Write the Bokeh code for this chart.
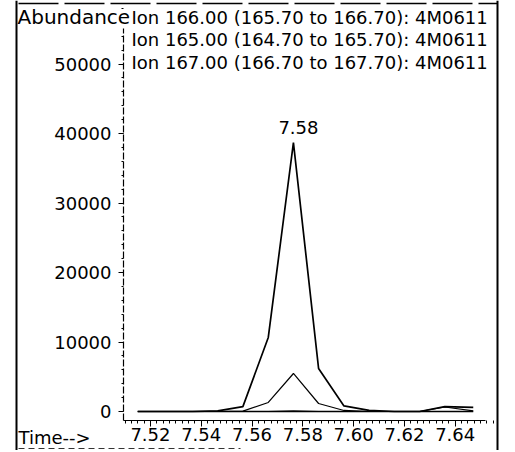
from bokeh.plotting import figure
from bokeh.models import Range1d, FixedTicker, Label, NumeralTickFormatter, Span
from bokeh.embed import file_html
from bokeh.resources import INLINE

# ---- data ----
times = [7.5150, 7.5267, 7.5366, 7.5465, 7.5564, 7.5664, 7.5763,
         7.5862, 7.5962, 7.6061, 7.6160, 7.6260, 7.6359, 7.6471]
ion166 = [0, 0, 0, 100, 700, 10650, 38700, 6200, 800, 150, 0, 0, 700, 600]
ion165 = [0, 0, 0, 0, 50, 1300, 5470, 1150, 150, 0, 0, 0, 650, 100]
ion167 = [0, 0, 0, 0, 0, 0, 60, 0, 0, 0, 0, 0, 0, 0]
ion_titles = ["Ion 166.00 (165.70 to 166.70): 4M0611",
              "Ion 165.00 (164.70 to 165.70): 4M0611",
              "Ion 167.00 (166.70 to 167.70): 4M0611"]
y_title = "Abundance"
x_title = "Time-->"
x_ticks = [7.52, 7.54, 7.56, 7.58, 7.60, 7.62, 7.64]
y_ticks = [0, 10000, 20000, 30000, 40000, 50000]

# ---- layout (pixel geometry of the reference picture) ----
W, H = 499, 450
OFFX, OFFY = 0, 0            # canvas origin in the picture
KX = 50.8 / 0.02             # px per minute
KY = 69.5 / 10000            # px per abundance unit
AXIS_PX, AXIS_T = 123, 7.5094  # x of the y axis and its time
ZERO_PY = 411                # y of abundance 0
FONT = "DejaVu Sans"
FS = "18px"

def t(px):   # picture x -> time
    return AXIS_T + (px - AXIS_PX) / KX

def v(py):   # picture y -> abundance
    return (ZERO_PY - py) / KY

X0, X1 = t(OFFX), t(OFFX + W)
Y0, Y1 = v(OFFY + H), v(OFFY)

p = figure(width=W, height=H, output_backend="svg", toolbar_location=None,
           x_range=Range1d(X0, X1), y_range=Range1d(Y0, Y1),
           min_border=0)
p.outline_line_color = None
p.grid.visible = False
p.background_fill_color = "white"
p.border_fill_color = "white"

# axes placed inside the full-canvas frame
xstep = (x_ticks[1] - x_ticks[0]) / 8
x_minor = [round(x_ticks[0] + k * xstep, 5) for k in range(-4, 8 * len(x_ticks) - 1)]
ystep = (y_ticks[1] - y_ticks[0]) / 5
y_minor = [y_ticks[0] + k * ystep for k in range(0, 5 * len(y_ticks) + 2)]

xa, ya = p.xaxis[0], p.yaxis[0]
xa.fixed_location = v(420)
xa.bounds = (t(AXIS_PX), t(485))
ya.fixed_location = t(AXIS_PX)
ya.bounds = (v(420), v(28))
xa.ticker = FixedTicker(ticks=x_ticks, minor_ticks=x_minor)
ya.ticker = FixedTicker(ticks=y_ticks, minor_ticks=y_minor)
xa.formatter = NumeralTickFormatter(format="0.00")
ya.formatter = NumeralTickFormatter(format="0")
for ax in (xa, ya):
    ax.axis_line_color = "black"
    ax.axis_line_width = 1.2
    ax.major_tick_line_color = "black"
    ax.minor_tick_line_color = "black"
    ax.major_tick_in = 0
    ax.minor_tick_in = 0
    ax.major_label_text_font = FONT
    ax.major_label_text_font_size = FS
    ax.major_label_text_color = "black"
    ax.major_label_text_font_style = "normal"
xa.major_tick_out = 6
xa.minor_tick_out = 3
xa.major_label_standoff = 1
ya.major_tick_out = 5
ya.minor_tick_out = 2
ya.major_label_standoff = 7
ya.axis_line_dash = "7 2"

# page frame lines (printed box around the chromatogram)
p.add_layout(Span(location=t(16), dimension="height", line_color="black", line_width=2))
p.add_layout(Span(location=t(497), dimension="height", line_color="black", line_width=2))
p.segment(x0=[t(18)], y0=[v(3)], x1=[t(497)], y1=[v(3)],
          line_color="black", line_width=1.5, line_dash="40 6")
p.segment(x0=[t(18)], y0=[v(448)], x1=[t(240)], y1=[v(448)],
          line_color="#333333", line_width=1.2, line_dash="6 4")

# traces
p.line(times, ion167, line_color="black", line_width=1.6)
p.line(times, ion165, line_color="black", line_width=1.2)
p.line(times, ion166, line_color="black", line_width=1.7)

# peak label
ia = max(range(len(ion166)), key=lambda i: ion166[i])
p.add_layout(Label(x=times[ia], y=ion166[ia] + 15 / KY, x_offset=5,
                   text=f"{times[ia]:.2f}", text_align="center",
                   text_baseline="alphabetic", text_font=FONT,
                   text_font_size=FS, text_color="black"))

# header and axis texts
p.add_layout(Label(x=t(17), y=v(16.5), text=y_title, text_align="left",
                   text_baseline="alphabetic", text_font=FONT,
                   text_font_size="20px", text_color="black"))
for i, txt in enumerate(ion_titles):
    p.add_layout(Label(x=t(131), y=v(16.5 + 22.7 * i), text=txt, text_align="left",
                       text_baseline="alphabetic", text_font=FONT,
                       text_font_size=FS, text_color="black"))
p.add_layout(Label(x=t(18), y=v(437), text=x_title, text_align="left",
                   text_baseline="alphabetic", text_font=FONT,
                   text_font_size=FS, text_color="black"))

open("out.html", "w").write(file_html(p, INLINE))
